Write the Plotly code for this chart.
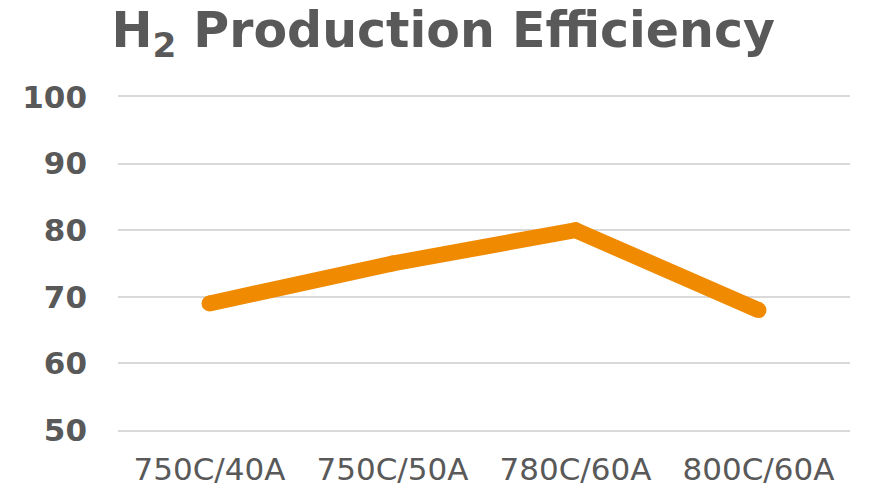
import plotly.graph_objects as go

categories = ["750C/40A", "750C/50A", "780C/60A", "800C/60A"]
efficiency = [69, 75, 80, 68]
y_ticks = [50, 60, 70, 80, 90, 100]

GRAY = "#595959"
ORANGE = "#F08A00"
GRID = "#D9D9D9"

fig = go.Figure()
fig.add_trace(go.Scatter(
    x=categories, y=efficiency, mode="lines+markers",
    line=dict(color=ORANGE, width=16),
    marker=dict(color=ORANGE, size=16, line=dict(width=0)),
    hoverinfo="skip", showlegend=False,
))

fig.update_layout(
    width=869, height=489,
    margin=dict(l=118, r=19, t=97, b=59),
    paper_bgcolor="white", plot_bgcolor="white",
    font=dict(family="DejaVu Sans", color=GRAY),
    title=dict(
        text="<b>H<sub>2</sub> Production Efficiency</b>",
        x=0.51, xanchor="center", xref="container",
        y=0.975, yanchor="top", yref="container",
        font=dict(size=49, color=GRAY, family="DejaVu Sans"),
        automargin=False,
    ),
    xaxis=dict(
        type="category", range=[-0.5, 3.5], automargin=False,
        showgrid=False, zeroline=False,
        showline=True, mirror=True, linecolor=GRID, linewidth=2,
        ticks="", tickfont=dict(size=31, color=GRAY),
        ticklabelstandoff=11,
    ),
    yaxis=dict(
        range=[50, 100], tickvals=y_ticks, automargin=False,
        ticktext=[f"<b>{v}</b>" for v in y_ticks],
        showgrid=True, gridcolor=GRID, gridwidth=2,
        zeroline=False, showline=False, ticks="",
        tickfont=dict(size=31, color=GRAY),
        ticklabelstandoff=30,
    ),
)

fig.write_html("out.html")
